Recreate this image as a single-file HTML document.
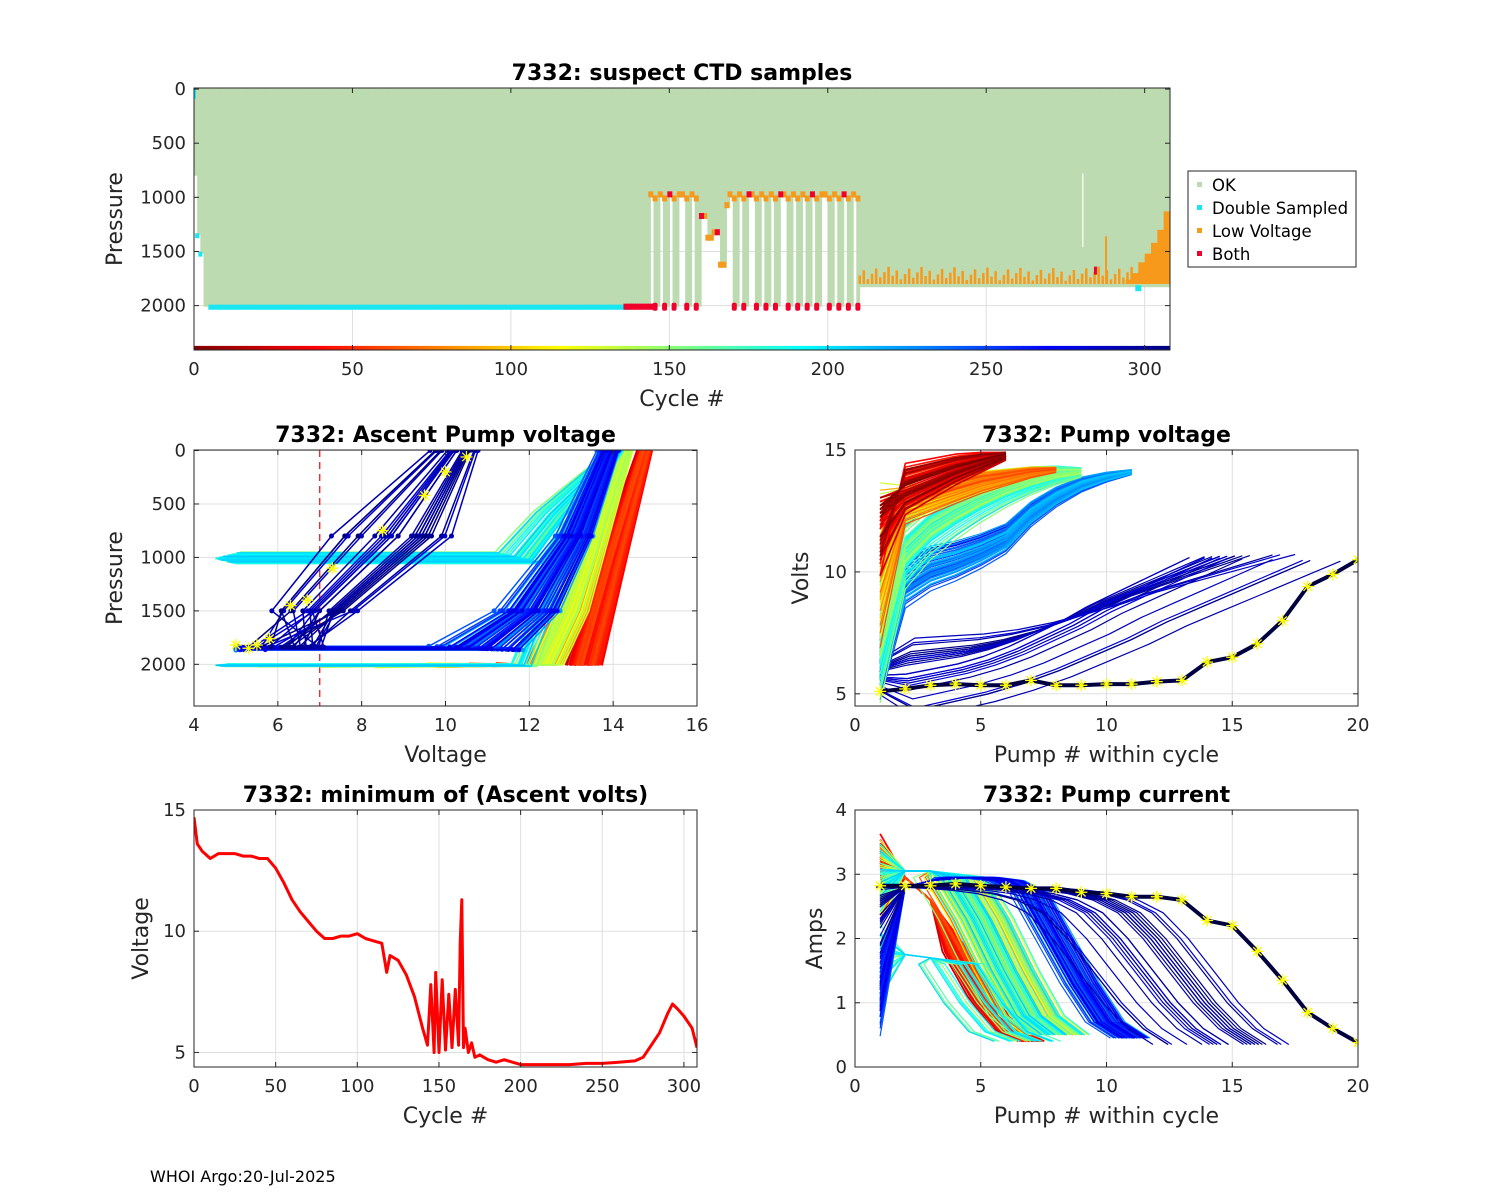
<!DOCTYPE html>
<html><head><meta charset="utf-8"><style>
html,body{margin:0;padding:0;background:#fff;}
svg{display:block;font-family:"DejaVu Sans","Liberation Sans",sans-serif;}
</style></head><body>
<svg id="fig" width="1500" height="1200" viewBox="0 0 1500 1200" xmlns="http://www.w3.org/2000/svg">
<text x="150" y="1182" font-size="16" fill="#000">WHOI Argo:20-Jul-2025</text>
</svg>
<script>
// ---------- DATA ----------
const minCycles = [0,2,5,10,15,20,25,30,35,40,45,50,55,60,65,70,75,80,85,90,95,100,105,110,115,118,120,125,130,135,140,143,145,147,148,150,152,154,156,158,160,162,163,164,165,166,168,170,172,175,180,185,190,195,200,210,220,230,240,250,260,270,275,280,285,290,293,296,300,305,308];
const minVolts  = [14.7,13.6,13.3,13.0,13.2,13.2,13.2,13.1,13.1,13.0,13.0,12.6,12.0,11.3,10.8,10.4,10.0,9.7,9.7,9.8,9.8,9.9,9.7,9.6,9.5,8.3,9.0,8.8,8.2,7.3,6.0,5.3,7.8,5.0,8.3,5.0,8.0,5.1,7.4,5.2,7.6,5.3,9.5,11.3,5.2,6.0,5.0,5.4,4.8,4.9,4.7,4.6,4.7,4.6,4.5,4.5,4.5,4.5,4.55,4.55,4.6,4.65,4.8,5.3,5.8,6.6,7.0,6.8,6.5,6.0,5.2];
const deepCycles = [145,148,151,155,158,170,173,177,180,183,187,190,193,196,200,203,206,209];
const partialDepth = [[144,1000],[160,1200],[162,1400],[164,1350],[166,1650],[168,1100]];
const endCycles = [296,298,300,302,304,306,308];
const endLowP   = [1760,1700,1600,1520,1420,1300,1130];
const vRed    = [13.0,13.4,13.8,14.2,14.5,14.8];
const vGreen  = [11.5,12.8,13.1,13.4,13.7,13.9,14.1,14.2];
const vCyan   = [7.5,11.0,12.0,12.6,13.1,13.5,13.8,14.0,14.1];
const vBlue   = [6.2,9.6,10.2,10.5,10.9,11.4,12.4,13.1,13.6,13.9,14.1];
const vNavy   = [5.6,5.9,6.1,6.3,6.6,7.0,7.5,8.0,8.6,9.1,9.6,10.1,10.6];
const vLast   = [5.1,5.2,5.35,5.4,5.35,5.35,5.55,5.35,5.35,5.4,5.4,5.5,5.55,6.3,6.5,7.05,8.0,9.4,9.9,10.5];
const aRed    = [3.0,2.95,2.6,1.8,1.1,0.6,0.4];
const aGreen  = [2.9,3.05,3.05,2.95,2.3,1.5,0.8,0.5];
const aCyan   = [1.7,1.75,1.7,1.6,1.0,0.55,0.4];
const aBlue   = [1.2,2.8,2.9,2.95,2.95,2.9,2.7,2.0,1.3,0.7,0.45];
const aNavy   = [2.4,2.8,2.8,2.8,2.8,2.78,2.75,2.7,2.6,2.4,2.0,1.5,1.0,0.6,0.35];
const aLast   = [2.82,2.82,2.82,2.85,2.82,2.8,2.78,2.78,2.72,2.7,2.65,2.65,2.6,2.28,2.2,1.8,1.35,0.85,0.6,0.38];
const spread  = [0.0,-0.6,0.4,-1.2,0.8,-0.3,1.1,-0.9,0.2,-1.6,0.6,-0.2,1.4];
const spread2 = [0.3,-0.5,0.0,0.7,-0.2,-0.8,0.5];
const xTicksCycle = [0,50,100,150,200,250,300];
const yTicksPres  = [0,500,1000,1500,2000];
const xTicksVolt  = [4,6,8,10,12,14,16];
const xTicksPump  = [0,5,10,15,20];
const yTicksVolts = [5,10,15];
const yTicksAmps  = [0,1,2,3,4];

// ---------- HELPERS ----------
const NS="http://www.w3.org/2000/svg";
const svg=document.getElementById('fig');
function el(tag,attrs,parent){const e=document.createElementNS(NS,tag);for(const k in attrs)e.setAttribute(k,attrs[k]);(parent||svg).appendChild(e);return e;}
function jet(t){t=Math.max(0,Math.min(1,t));
 const r=Math.max(0,Math.min(1,1.5-Math.abs(4*t-3))),g=Math.max(0,Math.min(1,1.5-Math.abs(4*t-2))),b=Math.max(0,Math.min(1,1.5-Math.abs(4*t-1)));
 return `rgb(${Math.round(r*255)},${Math.round(g*255)},${Math.round(b*255)})`;}
function cyc(c){return jet(1-c/308);}
function sp(c){return spread[c%13]+spread2[c%7];}
function minV(c){for(let i=0;i<minCycles.length-1;i++){if(c<=minCycles[i+1]){const f=(c-minCycles[i])/(minCycles[i+1]-minCycles[i]);return minVolts[i]+f*(minVolts[i+1]-minVolts[i]);}}return minVolts[minVolts.length-1];}
let clipN=0;
function makeAxes(name,x0,y0,x1,y1,xl,yl,rev,xt,yt,title,xlab,ylab){
 const g=el('g',{});
 
 
 const X=v=>x0+(v-xl[0])/(xl[1]-xl[0])*(x1-x0);
 const Y=rev?(v=>y0+(v-yl[0])/(yl[1]-yl[0])*(y1-y0)):(v=>y1-(v-yl[0])/(yl[1]-yl[0])*(y1-y0));
 const grid=el('g',{stroke:'#dfdfdf','stroke-width':1},g);
 
 
 xt.forEach(v=>el('line',{x1:X(v),x2:X(v),y1:y0,y2:y1},grid));
 yt.forEach(v=>el('line',{x1:x0,x2:x1,y1:Y(v),y2:Y(v)},grid));
 const id='clip'+(clipN++);
 const cp=el('clipPath',{id},g);el('rect',{x:x0,y:y0,width:x1-x0,height:y1-y0},cp);
 const plot=el('g',{'clip-path':`url(#${id})`},g);
 
 
 const frame=el('g',{},g);
 const box=el('rect',{x:x0,y:y0,width:x1-x0,height:y1-y0,fill:'none',stroke:'#262626','stroke-width':1},frame);
 
 
 xt.forEach(v=>{el('line',{x1:X(v),x2:X(v),y1:y1,y2:y1-5,stroke:'#262626'},frame);el('line',{x1:X(v),x2:X(v),y1:y0,y2:y0+5,stroke:'#262626'},frame);
  const t=el('text',{x:X(v),y:y1+25,'font-size':18,'text-anchor':'middle',fill:'#262626'},frame);t.textContent=v;
  
  });
 yt.forEach(v=>{el('line',{x1:x0,x2:x0+5,y1:Y(v),y2:Y(v),stroke:'#262626'},frame);el('line',{x1:x1,x2:x1-5,y1:Y(v),y2:Y(v),stroke:'#262626'},frame);
  const t=el('text',{x:x0-8,y:Y(v)+6,'font-size':18,'text-anchor':'end',fill:'#262626'},frame);t.textContent=v;
  
  });
 const tt=el('text',{x:(x0+x1)/2,y:y0-8,'font-size':22,'font-weight':'bold','text-anchor':'middle',fill:'#000'},frame);tt.textContent=title;
 
 
 const xlb=el('text',{x:(x0+x1)/2,y:y1+56,'font-size':22,'text-anchor':'middle',fill:'#262626'},frame);xlb.textContent=xlab;
 
 
 const ylb=el('text',{transform:`translate(${ylab[1]},${(y0+y1)/2}) rotate(-90)`,'font-size':22,'text-anchor':'middle',fill:'#262626'},frame);ylb.textContent=ylab[0];
 
 
 return {X,Y,plot};
}
function poly(parent,pts,color,w,name){const p=el('polyline',{points:pts.map(q=>q[0].toFixed(1)+','+q[1].toFixed(1)).join(' '),fill:'none',stroke:color,'stroke-width':w,'stroke-linejoin':'round'},parent);
 
 return p;}
function star(parent,x,y,r){const g=el('g',{stroke:'#ffff00','stroke-width':1.3},parent);
 
 
 for(let a=0;a<4;a++){const an=a*Math.PI/4;el('line',{x1:x-r*Math.cos(an),y1:y-r*Math.sin(an),x2:x+r*Math.cos(an),y2:y+r*Math.sin(an)},g);}}

// ---------- TOP ----------
(function(){
 const {X,Y,plot}=makeAxes('suspect-ctd-chart',194,88,1170,350,[0,308],[-10,2410],true,xTicksCycle,yTicksPres,'7332: suspect CTD samples','Cycle #',['Pressure',122]);
 const green='#bddbb1';
 function depth(c){ if(c<1)return 800; if(c<2)return 1350; if(c<3)return 1520; if(c<144)return 2010; if(c<210){
   if(deepCycles.some(d=>c>=d&&c<d+1.6))return 2010; let p=1000; partialDepth.forEach(q=>{if(c>=q[0])p=q[1];}); if(c>=169)p=1000; return p;} return 1830;}
 const gG=el('g',{fill:green},plot);
 
 
 for(let c=0;c<309;c+=0.5){const d=depth(c);el('rect',{x:X(c),y:Y(0)-2,width:X(0.5)-X(0)+0.6,height:Y(d)-Y(0)+2},gG);}
 const gC=el('g',{fill:'#19e6f0'},plot);
 
 
 for(let c=5;c<138;c+=0.6)el('rect',{x:X(c)-1.5,y:Y(2010)-2,width:3,height:5},gC);
 el('rect',{x:X(0)-2,y:Y(0)-2,width:4,height:Y(90)-Y(0)+2},gC);
 el('rect',{x:X(1)-2,y:Y(1350)-2,width:4,height:5},gC);el('rect',{x:X(2)-2,y:Y(1520)-2,width:4,height:5},gC);
 el('rect',{x:X(298)-3,y:Y(1830)-2,width:6,height:6},gC);
 const gO=el('g',{fill:'#f7991b'},plot);
 
 
 const gR=el('g',{fill:'#f0002a'},plot);
 
 
 for(let c=144;c<210;c+=1){const d=depth(c+0.3);if(d<1900){el('rect',{x:X(c)-2,y:Y(d)-6,width:5,height:6},c%5==0?gR:gO);} }
 deepCycles.forEach(c=>{el('rect',{x:X(c+0.5)-2.5,y:Y(2010)-4,width:5,height:8,rx:2},gR);el('rect',{x:X(c+0.5)-2.5,y:Y(1010)-3,width:5,height:6},gO);});
 for(let c=136;c<145;c+=0.6)el('rect',{x:X(c)-1.5,y:Y(2010)-3,width:3,height:6},gR);
 for(let c=210;c<309;c+=0.5){el('rect',{x:X(c)-1,y:Y(1860)-2,width:2.5,height:Y(1800)-Y(1860)+4},gR);}
 for(let c=210;c<296;c+=1.3){const h=(c*37%11)*12+30;el('rect',{x:X(c)-1,y:Y(1800-h),width:2.5,height:Y(1800)-Y(1800-h)},gO);}
 el('rect',{x:X(287.5),y:Y(1360),width:2,height:Y(1800)-Y(1360)},gO);
 endCycles.forEach((c,i)=>el('rect',{x:X(c-2),y:Y(endLowP[i]),width:X(2)-X(0)+0.5,height:Y(1800)-Y(endLowP[i])},gO));
 el('rect',{x:X(284),y:Y(1640),width:3,height:8},gR);
 el('line',{x1:X(280.5),x2:X(280.5),y1:Y(780),y2:Y(1460),stroke:'#fff','stroke-width':1.2},plot);
 const gB=el('g',{},plot);
 
 
 for(let c=0;c<=308;c+=1)el('rect',{x:X(c)-2,y:Y(2400)-3,width:4.5,height:6,fill:cyc(c)},gB);
 const lg=el('g',{},svg);
 
 
 el('rect',{x:1188,y:171,width:168,height:96,fill:'#fff',stroke:'#262626'},lg);
 [['OK','#bddbb1'],['Double Sampled','#19e6f0'],['Low Voltage','#f7991b'],['Both','#f0002a']].forEach((e,i)=>{
  const g=el('g',{},lg);
  
  
  el('rect',{x:1197,y:182+i*23,width:5,height:5,fill:e[1]},g);
  const t=el('text',{x:1212,y:191+i*23,'font-size':16.5,fill:'#000'},g);t.textContent=e[0];});
})();

// ---------- MIDDLE LEFT ----------
(function(){
 const {X,Y,plot}=makeAxes('ascent-voltage-chart',194,450,697,706,[4,16],[-5,2390],true,xTicksVolt,yTicksPres,'7332: Ascent Pump voltage','Voltage',['Pressure',122]);
 const dash=el('line',{x1:X(7),x2:X(7),y1:450,y2:706,stroke:'#ff0000','stroke-dasharray':'7,5','stroke-width':1.2},plot);
 
 
 for(let c=0;c<=308;c++){
  const col=cyc(c),s=sp(c),mv=minV(c),a=(s+2.2)/4.4;
  let pts;
  if(c<60){pts=[[13.3+s*0.2,2010],[14.0+s*0.15,1000],[14.75+s*0.08,0]];}
  else if(c<144){pts=[[Math.max(4.5,mv),2010+s*10],[12.4+s*0.2,2005],[13.0+s*0.2,1500],[14.3+s*0.08,0]];}
  else if(c<210){const deep=deepCycles.includes(c);const P=deep?2010+s*12:1010+s*25;
    pts=[[4.5+Math.abs(s)*0.25,P],[11.9+s*0.3,P],[12.7+s*0.25,P*0.6],[14.1+s*0.08,0]];}
  else if(c<280){const P=1850+s*8;pts=[[Math.max(5,mv+0.5),P],[10.8+s*0.5,P],[12.0+s*0.35,1500],[13.1+s*0.2,800],[13.9+s*0.12,0]];}
  else {pts=[[Math.max(5,mv)+0.1,1840],[5.8+a*2.5,1500],[7.2+a*3.5,800],[9.6+a*1.4,0]];}
  poly(plot,pts.map(p=>[X(p[0]),Y(p[1])]),col,c<60?3:1.5,'ascent-profile');
  if(c>=210){const g=el('g',{fill:col},plot);pts.forEach(p=>el('circle',{cx:X(p[0]),cy:Y(p[1]),r:2.5},g));}
 }
 [[10.5,60],[10,200],[9.5,420],[8.5,750],[7.3,1100],[6.3,1450],[6.7,1400],[5.8,1760],[5.5,1820],[5.3,1850],[5.0,1820]].forEach(p=>star(plot,X(p[0]),Y(p[1]),6));
})();

// ---------- MIDDLE RIGHT ----------
(function(){
 const {X,Y,plot}=makeAxes('pump-voltage-chart',855,450,1358,706,[0,20],[4.5,15],false,xTicksPump,yTicksVolts,'7332: Pump voltage','Pump # within cycle',['Volts',808]);
 for(let c=307;c>=0;c--){
  const s=sp(c);let tpl,k,first;
  if(c<60){tpl=vRed;k=0.6;first=13.2-Math.abs(s)*1.6;}
  else if(c<144){tpl=vGreen;k=0.4;first=10.5+s*1.5;}
  else if(c<210){tpl=vCyan;k=0.8;first=7.5+s*1.2;}
  else if(c<280){tpl=vBlue;k=0.5;first=6.2+s*0.6;}
  else{tpl=vNavy;k=1.0;first=5.8+s*0.4;}
  const stretch=c>=280?1+Math.abs(s)*0.25:1;
  const pts=tpl.map((v,i)=>[X(1+i*stretch),Y(Math.min(14.9,i==0?first:v+s*k*(1-i/tpl.length)))]);
  poly(plot,pts,cyc(c),c<60?1.6:1.2,'pump-voltage-line');
 }
 poly(plot,vLast.map((v,i)=>[X(i+1),Y(v)]),'#000040',4,'last-cycle-voltage-line');
 vLast.forEach((v,i)=>star(plot,X(i+1),Y(v),6));
})();

// ---------- BOTTOM LEFT ----------
(function(){
 const {X,Y,plot}=makeAxes('min-voltage-chart',194,810,697,1067,[0,308],[4.4,15],false,xTicksCycle,yTicksVolts,'7332: minimum of (Ascent volts)','Cycle #',['Voltage',148]);
 poly(plot,minCycles.map((c,i)=>[X(c),Y(minVolts[i])]),'#ff0000',3,'min-voltage-line');
})();

// ---------- BOTTOM RIGHT ----------
(function(){
 const {X,Y,plot}=makeAxes('pump-current-chart',855,810,1358,1067,[0,20],[0,4],false,xTicksPump,yTicksAmps,'7332: Pump current','Pump # within cycle',['Amps',822]);
 for(let c=0;c<308;c++){
  const s=sp(c);let tpl,sh=0;
  if(c<60){tpl=aRed;sh=s*0.25;}else if(c<144){tpl=aGreen;sh=s*0.6;}else if(c<210){tpl=(c%3==0)?aCyan:aGreen;sh=s*0.7;}else if(c<280){tpl=aBlue;sh=s*0.35;}else{tpl=aNavy;sh=s*1.5;}
  const pts=tpl.map((v,i)=>[X(i+1+(i>2?sh:0)),Y(v+(i==0?s*0.3:0))]);
  poly(plot,pts,cyc(c),c<60?1.8:1.2,'pump-current-line');
 }
 poly(plot,aLast.map((v,i)=>[X(i+1),Y(v)]),'#000040',4,'last-cycle-current-line');
 aLast.forEach((v,i)=>star(plot,X(i+1),Y(v),6));
})();
</script>
</body></html>
